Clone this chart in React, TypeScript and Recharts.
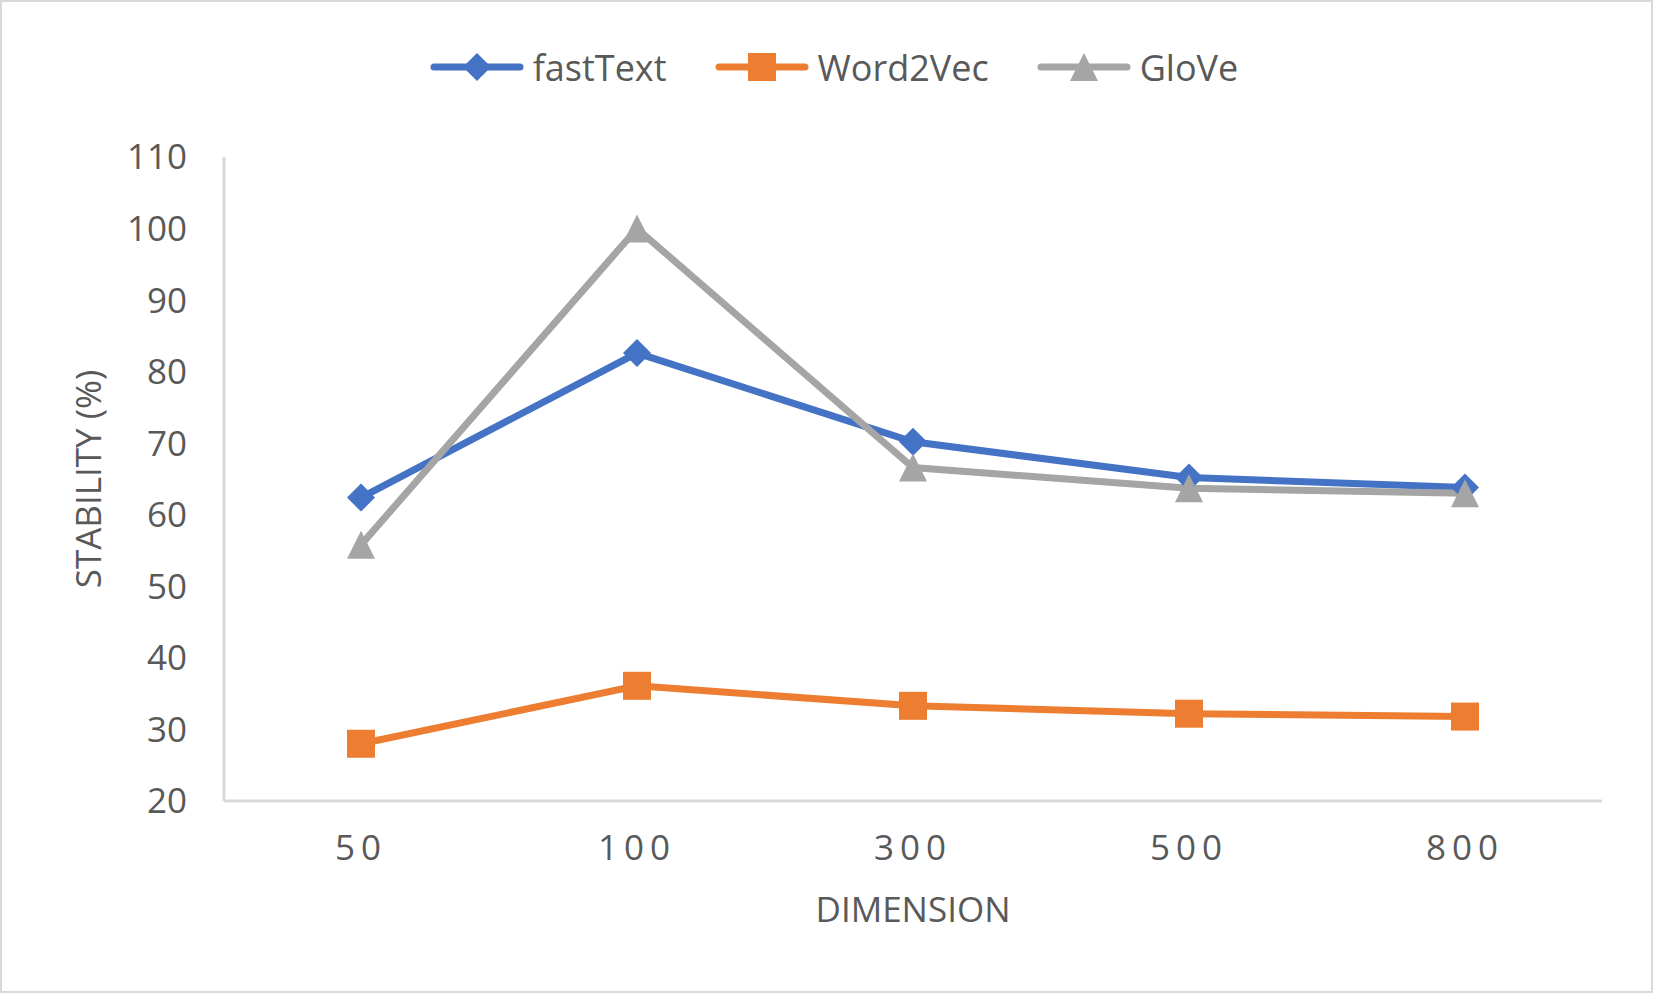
import React from 'react';
import { LineChart, Line, XAxis, YAxis, Legend } from 'recharts';

const categories = ['50', '100', '300', '500', '800'];
const fastText = [62.4, 82.6, 70.2, 65.2, 63.8];
const word2Vec = [28.0, 36.1, 33.3, 32.2, 31.8];
const glove = [55.8, 100.0, 66.6, 63.7, 63.0];
const yTicks = [20, 30, 40, 50, 60, 70, 80, 90, 100, 110];

const seriesNames = ['fastText', 'Word2Vec', 'GloVe'];
const seriesColors = ['#4472C4', '#ED7D31', '#A5A5A5'];

const FONT = '"Open Sans", sans-serif';
const TEXT = '#595959';
const AXIS = '#D9D9D9';

const data = categories.map((c, i) => ({
  dim: c,
  fastText: fastText[i],
  word2Vec: word2Vec[i],
  glove: glove[i],
}));

// marker shapes, ~28px like the excel markers
function Marker({ kind, cx, cy, fill }: { kind: number; cx: number; cy: number; fill: string }) {
  const s = 14;
  if (kind === 0) {
    return <polygon points={`${cx},${cy - s} ${cx + s},${cy} ${cx},${cy + s} ${cx - s},${cy}`} fill={fill} />;
  }
  if (kind === 1) {
    return <rect x={cx - s} y={cy - s} width={s * 2} height={s * 2} fill={fill} />;
  }
  return <polygon points={`${cx},${cy - s} ${cx + s},${cy + s} ${cx - s},${cy + s}`} fill={fill} />;
}

const makeDot = (kind: number) => (props: any) => {
  const { cx, cy, index } = props;
  if (cx == null || cy == null) return <g key={index} />;
  return <Marker key={index} kind={kind} cx={cx} cy={cy} fill={seriesColors[kind]} />;
};

function LegendContent() {
  return (
    <div
      style={{
        display: 'flex',
        justifyContent: 'center',
        alignItems: 'center',
        gap: 48,
        height: 90,
        paddingLeft: 64,
        fontFamily: FONT,
        fontSize: 36,
        color: TEXT,
      }}
    >
      {seriesNames.map((name, i) => (
        <div key={name} style={{ display: 'flex', alignItems: 'center', gap: 9 }}>
          <svg width={94} height={32}>
            <line x1={4} y1={16} x2={90} y2={16} stroke={seriesColors[i]} strokeWidth={7} strokeLinecap="round" />
            <Marker kind={i} cx={47} cy={16} fill={seriesColors[i]} />
          </svg>
          <span>{name}</span>
        </div>
      ))}
    </div>
  );
}

function YTitle(props: any) {
  const vb = props.viewBox;
  const cx = vb.x + 85;
  const cy = vb.y + vb.height / 2;
  return (
    <text
      x={cx}
      y={cy}
      transform={`rotate(-90 ${cx} ${cy})`}
      textAnchor="middle"
      dominantBaseline="central"
      fill={TEXT}
      fontSize={35}
      fontFamily={FONT}
    >
      STABILITY (%)
    </text>
  );
}

export default function App() {
  return (
    <div
      style={{
        position: 'absolute',
        left: 0,
        top: 0,
        width: 1653,
        height: 993,
        boxSizing: 'border-box',
        border: `2px solid ${AXIS}`,
        background: '#fff',
        fontFamily: FONT,
      }}
    >
      <LineChart width={1649} height={989} data={data} margin={{ top: 20, right: 49, left: 0, bottom: 106 }}>
        <Legend verticalAlign="top" align="center" height={135} content={<LegendContent />} />
        <XAxis
          dataKey="dim"
          height={84}
          padding={{ left: 137, right: 137 }}
          axisLine={{ stroke: AXIS, strokeWidth: 3 }}
          tickLine={false}
          tickMargin={28}
          tick={{ fill: TEXT, fontSize: 35, fontFamily: FONT, letterSpacing: 6 }}
          label={{ value: 'DIMENSION', position: 'bottom', offset: 12, fill: TEXT, fontSize: 35, fontFamily: FONT }}
        />
        <YAxis
          type="number"
          domain={[20, 110]}
          ticks={yTicks}
          width={222}
          axisLine={{ stroke: AXIS, strokeWidth: 3 }}
          tickLine={false}
          tickMargin={31}
          tick={{ fill: TEXT, fontSize: 35, fontFamily: FONT }}
          label={<YTitle />}
        />
        <Line
          type="linear"
          dataKey="fastText"
          name="fastText"
          stroke={seriesColors[0]}
          strokeWidth={7}
          dot={makeDot(0)}
          activeDot={false}
          isAnimationActive={false}
        />
        <Line
          type="linear"
          dataKey="word2Vec"
          name="Word2Vec"
          stroke={seriesColors[1]}
          strokeWidth={7}
          dot={makeDot(1)}
          activeDot={false}
          isAnimationActive={false}
        />
        <Line
          type="linear"
          dataKey="glove"
          name="GloVe"
          stroke={seriesColors[2]}
          strokeWidth={7}
          dot={makeDot(2)}
          activeDot={false}
          isAnimationActive={false}
        />
      </LineChart>
    </div>
  );
}
